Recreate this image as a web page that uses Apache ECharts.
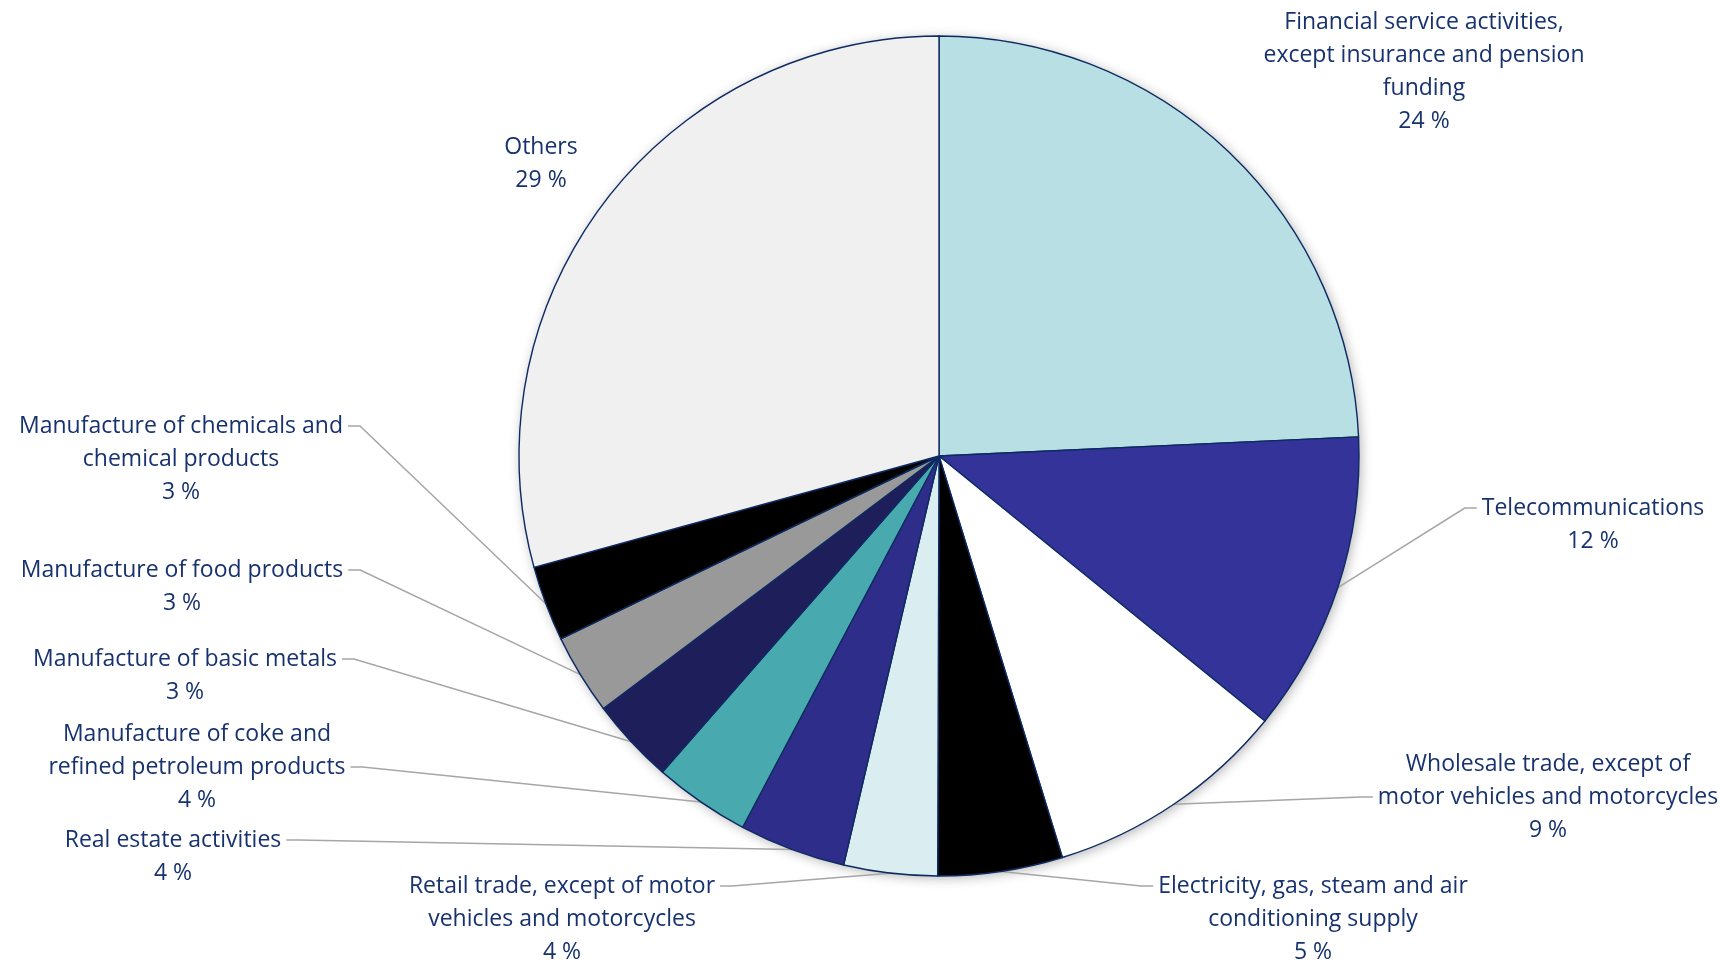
<!DOCTYPE html>
<html>
<head>
<meta charset="utf-8">
<script src="https://cdn.jsdelivr.net/npm/echarts@6/dist/echarts.min.js"></script>
<style>
  html, body { margin: 0; padding: 0; background: #ffffff; }
  #chart { width: 1731px; height: 964px; }
</style>
</head>
<body>
<div id="chart"></div>
<script>
// ---- data ----
const categories = [
  'Financial service activities, except insurance and pension funding',
  'Telecommunications',
  'Wholesale trade, except of motor vehicles and motorcycles',
  'Electricity, gas, steam and air conditioning supply',
  'Retail trade, except of motor vehicles and motorcycles',
  'Real estate activities',
  'Manufacture of coke and refined petroleum products',
  'Manufacture of basic metals',
  'Manufacture of food products',
  'Manufacture of chemicals and chemical products',
  'Others'
];
const shares = [24.3, 11.6, 9.4, 4.8, 3.6, 4.1, 3.7, 3.3, 3.1, 2.9, 29.3];
const labelTexts = [
  'Financial service activities,\nexcept insurance and pension\nfunding',
  'Telecommunications',
  'Wholesale trade, except of\nmotor vehicles and motorcycles',
  'Electricity, gas, steam and air\nconditioning supply',
  'Retail trade, except of motor\nvehicles and motorcycles',
  'Real estate activities',
  'Manufacture of coke and\nrefined petroleum products',
  'Manufacture of basic metals',
  'Manufacture of food products',
  'Manufacture of chemicals and\nchemical products',
  'Others'
];

// ---- styling / layout ----
const colors = ['#b8e0e4', '#333399', '#ffffff', '#000000', '#daeef2', '#2e2e8a',
                '#48a9ae', '#1e1e5a', '#999999', '#000000', '#f0f0f0'];
// [centre x, y of the line the leader attaches to (or block centre), index of that line or -1 for no leader]
const labelPlace = [
  [1424, 72, -1],
  [1593, 508, 0],
  [1548, 797, 1],
  [1313, 886, 0],
  [562, 886, 0],
  [173, 840, 0],
  [197, 767, 1],
  [185, 659, 0],
  [182, 570, 0],
  [181, 426, 0],
  [541, 164, -1]
];
const LH = 33;
const TEXT = '#17326e';

// blank lines prepended so that the leader (which meets the middle of the text block)
// lands on the wanted text line
function blankLinesFor(i) {
  const nLines = labelTexts[i].split('\n').length + 1;
  const k = labelPlace[i][2];
  return k < 0 ? 0 : Math.max(0, nLines - 2 * k - 1);
}

const dataItems = categories.map(function (name, i) {
  return {
    name: name,
    value: shares[i],
    itemStyle: { color: colors[i] },
    labelLine: { show: labelPlace[i][2] >= 0 }
  };
});

const chart = echarts.init(document.getElementById('chart'), null, { renderer: 'canvas' });
chart.setOption({
  backgroundColor: '#ffffff',
  animation: false,
  series: [
    {
      type: 'pie',
      silent: true,
      z: 1,
      center: [939, 456],
      radius: 420,
      startAngle: 90,
      label: { show: false },
      labelLine: { show: false },
      itemStyle: {
        color: '#ffffff',
        shadowBlur: 12,
        shadowColor: 'rgba(0,0,0,0.3)',
        shadowOffsetX: 2,
        shadowOffsetY: 2
      },
      data: [{ value: 1, name: '' }]
    },
    {
      type: 'pie',
      z: 2,
      center: [939, 456],
      radius: 420,
      startAngle: 90,
      clockwise: true,
      avoidLabelOverlap: false,
      itemStyle: { borderColor: '#0d2b61', borderWidth: 1.4 },
      label: {
        show: true,
        position: 'outside',
        color: TEXT,
        fontFamily: '"Open Sans", Lato, sans-serif',
        fontSize: 23,
        lineHeight: LH,
        align: 'center',
        padding: [0, 5, 0, 5],
        formatter: function (p) {
          const pre = '\n'.repeat(blankLinesFor(p.dataIndex));
          return pre + labelTexts[p.dataIndex] + '\n' + Math.round(p.value) + ' %';
        }
      },
      labelLine: {
        show: true,
        length: 20,
        length2: 12,
        smooth: false,
        lineStyle: { color: '#a6a6a6', width: 1.5 }
      },
      labelLayout: function (p) {
        const pl = labelPlace[p.dataIndex];
        return {
          x: pl[0],
          y: pl[1],
          align: 'center',
          verticalAlign: 'middle',
          hideOverlap: false
        };
      },
      emphasis: { disabled: true },
      data: dataItems
    }
  ]
});
</script>
</body>
</html>
